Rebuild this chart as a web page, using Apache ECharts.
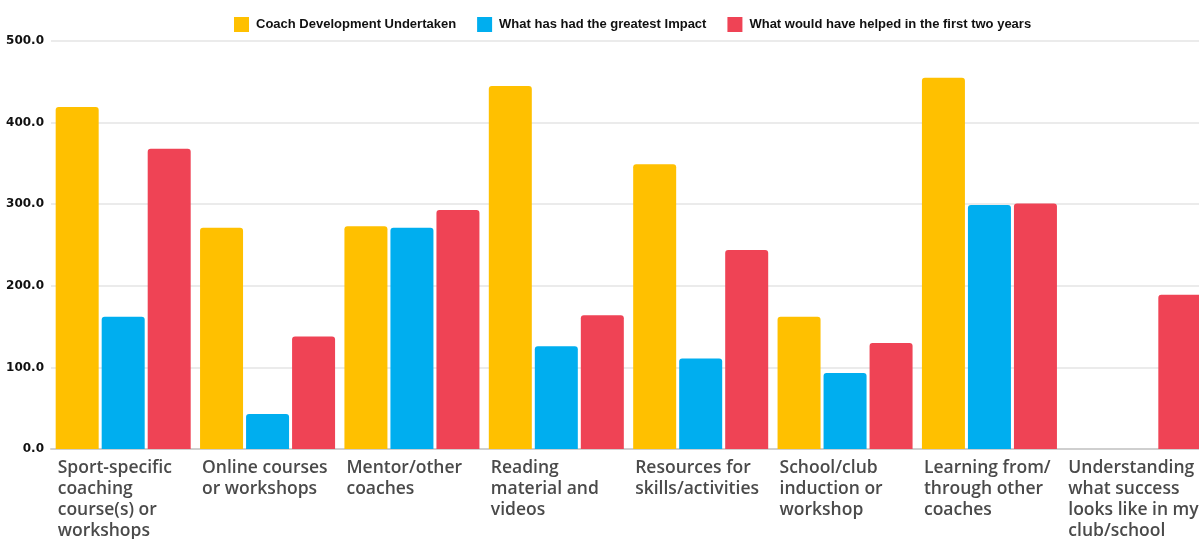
<!DOCTYPE html>
<html><head><meta charset="utf-8">
<script src="https://cdn.jsdelivr.net/npm/echarts@6/dist/echarts.min.js"></script>
<style>html,body{margin:0;padding:0;background:#fff}#c{width:1199px;height:539px}</style>
</head><body><div id="c"></div>
<script>
const categories = [
  "Sport-specific\ncoaching\ncourse(s) or\nworkshops",
  "Online courses\nor workshops",
  "Mentor/other\ncoaches",
  "Reading\nmaterial and\nvideos",
  "Resources for\nskills/activities",
  "School/club\ninduction or\nworkshop",
  "Learning from/\nthrough other\ncoaches",
  "Understanding\nwhat success\nlooks like in my\nclub/school"
];
const seriesNames = ["Coach Development Undertaken", "What has had the greatest Impact", "What would have helped in the first two years"];
const undertaken = [419, 271, 273, 445, 349, 162, 455, 0];
const greatestImpact = [162, 43, 271, 126, 111, 93, 299, 0];
const wouldHaveHelped = [368, 138, 293, 164, 244, 130, 301, 189];
const colors = ["#FFC000", "#00AEEF", "#EF4355"];
const yTicks = { min: 0, max: 500, interval: 100 };

const chart = echarts.init(document.getElementById('c'), null, { renderer: 'canvas' });
const mk = (name, data, color) => ({
  name, type: 'bar', data, barWidth: 43, barGap: '7%',
  itemStyle: { color, borderRadius: [3, 3, 0, 0] }
});
chart.setOption({
  animation: false,
  color: colors,
  legend: {
    top: 12, left: 229, itemWidth: 15, itemHeight: 15, itemGap: 21,
    icon: 'rect',
    textStyle: { fontFamily: 'Liberation Sans', fontWeight: 'bold', fontSize: 13, color: '#111', padding: [0,0,0,2] },
    data: seriesNames
  },
  grid: { left: 51, width: 1155, top: 41, height: 408, containLabel: false, outerBoundsMode: 'none' },
  xAxis: {
    type: 'category', data: categories,
    axisLine: { lineStyle: { color: '#cfcfcf', width: 2 } },
    axisTick: { show: false },
    axisLabel: {
      interval: 0, margin: 9, align: 'center', verticalAlign: 'top',
      formatter: v => '{a|' + v + '}',
      rich: { a: { width: 131, align: 'left', fontFamily: 'Open Sans', fontWeight: 600, fontSize: 17.5, lineHeight: 21, color: '#4a4a4a' } }
    }
  },
  yAxis: {
    type: 'value', min: yTicks.min, max: yTicks.max, interval: yTicks.interval,
    axisLine: { show: false }, axisTick: { show: false },
    splitLine: { lineStyle: { color: '#ebebeb', width: 2 } },
    axisLabel: { formatter: v => v.toFixed(1), fontFamily: 'DejaVu Sans', fontWeight: 'bold', fontSize: 12, color: '#111', margin: 7 }
  },
  series: [
    mk(seriesNames[0], undertaken, colors[0]),
    mk(seriesNames[1], greatestImpact, colors[1]),
    mk(seriesNames[2], wouldHaveHelped, colors[2])
  ]
});
</script></body></html>
